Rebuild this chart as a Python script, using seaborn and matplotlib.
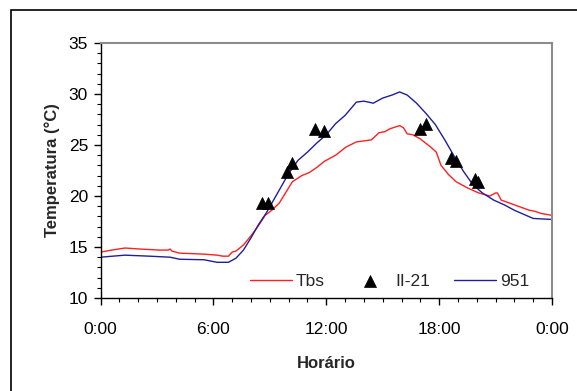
import numpy as np
import pandas as pd
import matplotlib
matplotlib.use("Agg")
import matplotlib.pyplot as plt
import seaborn as sns
from matplotlib.ticker import MultipleLocator, FuncFormatter
from matplotlib.patches import Rectangle

# Tbs (red line), hours vs temperature
tbs_hours = [0.0, 0.6, 1.3, 2.1, 3.1, 3.6, 3.7, 3.8, 4.2, 5.5, 6.2, 6.5, 6.8, 7.0, 7.2,
             7.6, 8.0, 8.4, 8.75, 9.1, 9.5, 9.9, 10.2, 10.7, 11.1, 11.5, 11.9, 12.5,
             13.05, 13.6, 14.0, 14.4, 14.8, 15.1, 15.4, 15.9, 16.1, 16.3, 16.6, 17.0,
             17.55, 17.85, 18.1, 18.5, 18.9, 19.5, 20.1, 20.7, 21.0, 21.1, 21.3, 22.05,
             22.8, 23.1, 23.4, 24.0]
tbs_temp = [14.5, 14.7, 14.9, 14.8, 14.7, 14.7, 14.8, 14.6, 14.4, 14.3, 14.2, 14.1, 14.1,
            14.5, 14.6, 15.2, 16.1, 17.1, 18.1, 18.6, 19.3, 20.5, 21.4, 22.0, 22.3, 22.8,
            23.4, 24.0, 24.8, 25.3, 25.4, 25.5, 26.2, 26.3, 26.6, 26.9, 26.7, 26.1, 26.0,
            25.6, 24.8, 24.3, 23.0, 22.1, 21.4, 20.8, 20.3, 20.0, 20.3, 20.3, 19.6, 19.1,
            18.6, 18.5, 18.3, 18.1]

# 951 (blue line)
s951_hours = [0.0, 1.3, 2.6, 3.7, 4.2, 5.5, 6.2, 6.8, 7.2, 7.6, 8.0, 8.4, 8.8, 9.2, 9.6,
              10.0, 10.5, 11.0, 11.5, 12.0, 12.5, 13.0, 13.6, 14.0, 14.5, 15.0, 15.5,
              15.9, 16.3, 16.8, 17.3, 17.8, 18.3, 18.8, 19.3, 19.8, 20.3, 20.9, 21.5,
              22.0, 22.5, 23.0, 24.0]
s951_temp = [14.0, 14.2, 14.1, 14.0, 13.8, 13.75, 13.5, 13.5, 13.9, 14.7, 15.9, 17.2,
             18.3, 19.6, 20.9, 22.2, 23.5, 24.3, 25.2, 26.0, 27.1, 27.9, 29.2, 29.3,
             29.1, 29.6, 29.9, 30.2, 29.9, 29.1, 28.1, 27.0, 25.5, 23.9, 22.4, 21.1,
             20.3, 19.6, 19.1, 18.6, 18.2, 17.8, 17.7]

# II-21 (triangle markers)
ii21_hours = [8.6, 8.9, 9.9, 10.2, 11.4, 11.9, 17.0, 17.3, 18.65, 18.9, 19.9, 20.05]
ii21_temp = [19.3, 19.3, 22.4, 23.2, 26.6, 26.4, 26.6, 27.1, 23.7, 23.4, 21.7, 21.4]

sns.set_theme(style="white")
plt.rcParams["font.family"] = ["Liberation Sans", "DejaVu Sans"]

fig = plt.figure(figsize=(5.77, 3.91), dpi=100)
ax = fig.add_axes([100.5 / 577, 1 - 298 / 391, 451.5 / 577, 255 / 391])

sns.lineplot(x=tbs_hours, y=tbs_temp, ax=ax, color="#ff2020", lw=1.0, label="Tbs")
sns.scatterplot(x=ii21_hours, y=ii21_temp, ax=ax, color="black", marker="^", s=75,
                edgecolor="black", linewidth=0.5, label="II-21", zorder=5)
sns.lineplot(x=s951_hours, y=s951_temp, ax=ax, color="#1f1f9a", lw=1.0, label="951")

ax.set_xlim(0, 24)
ax.set_ylim(10, 35)
ax.xaxis.set_major_locator(MultipleLocator(6))
ax.xaxis.set_minor_locator(MultipleLocator(1))
ax.yaxis.set_major_locator(MultipleLocator(5))
ax.yaxis.set_minor_locator(MultipleLocator(1))
ax.xaxis.set_major_formatter(FuncFormatter(lambda v, p: "%d:00" % (int(round(v)) % 24)))

ax.tick_params(axis="both", which="major", direction="out", length=5, width=1,
               color="black", labelsize=12.5, labelcolor="black", pad=4, bottom=True, left=True)
ax.tick_params(axis="both", which="minor", direction="out", length=3, width=0.8,
               color="black", bottom=True, left=True)
ax.tick_params(axis="x", which="major", pad=12)

for side in ["left", "bottom"]:
    ax.spines[side].set_color("black")
    ax.spines[side].set_linewidth(1.0)
for side in ["top", "right"]:
    ax.spines[side].set_color("#8c8c8c")
    ax.spines[side].set_linewidth(1.5)

ax.set_xlabel("Horário", fontsize=12, fontweight="bold", labelpad=14)
ax.set_ylabel("Temperatura (°C)", fontsize=12, fontweight="bold", labelpad=6)

ax.legend(loc="lower right", ncol=3, frameon=False, fontsize=12.5, handlelength=2.4,
          columnspacing=1.4, handletextpad=0.25, bbox_to_anchor=(0.985, -0.025))

# outer chart border (left and top visible)
fig.patches.append(Rectangle((11 / 577, -0.05), 1.2, 1 - 10 / 391 + 0.05,
                             transform=fig.transFigure, fill=False,
                             edgecolor="black", lw=1.2))

fig.savefig("out.png", dpi=100)
